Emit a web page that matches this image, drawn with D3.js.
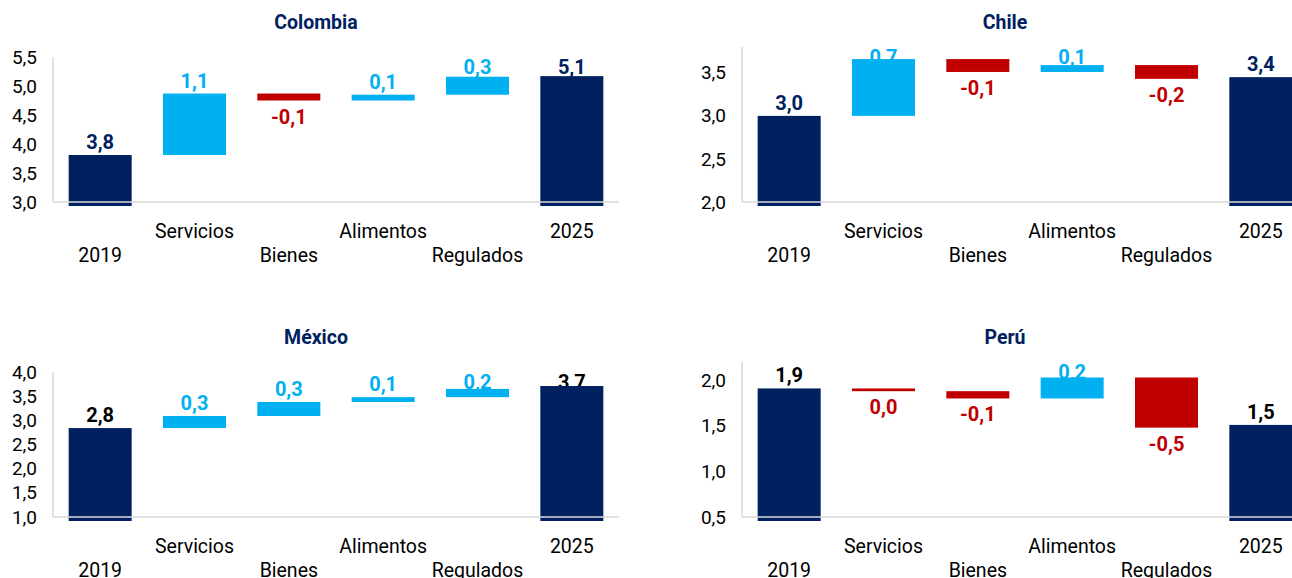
<!DOCTYPE html>
<html>
<head>
<meta charset="utf-8">
<script src="https://cdn.jsdelivr.net/npm/d3@7"></script>
<style>
  body { margin: 0; background: #fff; }
  svg { display: block; font-family: Roboto, "Noto Sans", sans-serif; }
</style>
</head>
<body>
<div id="chart"></div>
<script>
// categories and panels
const categories = ["2019", "Servicios", "Bienes", "Alimentos", "Regulados", "2025"];
const countries = ["Colombia", "Chile", "México", "Perú"];

// values (one entry per country)
const start2019 = [3.81, 3.00, 2.84, 1.91];
const servicios = [1.06, 0.66, 0.25, -0.03];
const bienes    = [-0.12, -0.15, 0.29, -0.08];
const alimentos = [0.10, 0.08, 0.10, 0.23];
const regulados = [0.31, -0.16, 0.17, -0.55];
const end2025   = [5.17, 3.45, 3.71, 1.51];

// data labels as printed on the chart
const labelsColombia = ["3,8", "1,1", "-0,1", "0,1", "0,3", "5,1"];
const labelsChile    = ["3,0", "0,7", "-0,1", "0,1", "-0,2", "3,4"];
const labelsMexico   = ["2,8", "0,3", "0,3", "0,1", "0,2", "3,7"];
const labelsPeru     = ["1,9", "0,0", "-0,1", "0,2", "-0,5", "1,5"];
const allLabels = [labelsColombia, labelsChile, labelsMexico, labelsPeru];

// y axis ranges and ticks
const yMin = [3.0, 2.0, 1.0, 0.5];
const yMax = [5.5, 3.8, 4.0, 2.2];
const ticksColombia = [3.0, 3.5, 4.0, 4.5, 5.0, 5.5];
const ticksChile    = [2.0, 2.5, 3.0, 3.5];
const ticksMexico   = [1.0, 1.5, 2.0, 2.5, 3.0, 3.5, 4.0];
const ticksPeru     = [0.5, 1.0, 1.5, 2.0];
const allTicks = [ticksColombia, ticksChile, ticksMexico, ticksPeru];

const w = 1292, h = 578;
const navy = "#002060", blue = "#00B0F0", red = "#C00000", grid = "#d9d9d9";

// layout of each panel
const offX  = [0, 689, 0, 689];
const baseY = [202, 202, 517, 517];
const plotH = [145, 155, 145, 155];
const totalLabelColor = [navy, navy, "#000", "#000"];

const fmt = v => d3.format(".1f")(v).replace(".", ",");

const svg = d3.select("#chart").append("svg")
  .attr("width", w).attr("height", h);

countries.forEach((name, k) => {
  const g = svg.append("g").attr("transform", "translate(" + offX[k] + ",0)");
  const y0 = baseY[k], yTop = y0 - plotH[k];

  const xScale = d3.scaleBand().domain(categories).range([53, 619])
    .paddingInner(0.332).paddingOuter(0.166);
  const yScale = d3.scaleLinear().domain([yMin[k], yMax[k]]).range([y0, yTop]);

  // build waterfall steps
  const deltas = [servicios[k], bienes[k], alimentos[k], regulados[k]];
  const bars = [];
  let level = start2019[k];
  bars.push({cat: categories[0], lo: yMin[k], hi: level, total: true, neg: false});
  deltas.forEach((d, i) => {
    const next = level + d;
    bars.push({cat: categories[i + 1], lo: Math.min(level, next), hi: Math.max(level, next), total: false, neg: d < 0});
    level = next;
  });
  bars.push({cat: categories[5], lo: yMin[k], hi: end2025[k], total: true, neg: false});
  bars.forEach((b, i) => b.label = allLabels[k][i]);

  // title
  g.append("text")
    .attr("x", 316).attr("y", y0 - 180)
    .attr("dy", "0.35em")
    .attr("text-anchor", "middle")
    .style("font-size", "19.5px").style("font-weight", "bold")
    .style("fill", navy)
    .text(name);

  // y axis
  const yAxis = d3.axisLeft(yScale).tickValues(allTicks[k]).tickSize(0).tickPadding(16).tickFormat(fmt);
  const ya = g.append("g").attr("transform", "translate(53,0)").call(yAxis);
  ya.select(".domain").remove();
  ya.selectAll("text").style("font-size", "19px").style("fill", "#000")
    .style("font-family", "Roboto, sans-serif");

  // vertical axis line
  g.append("line")
    .attr("x1", 53).attr("x2", 53).attr("y1", yTop).attr("y2", y0)
    .attr("stroke", grid).attr("stroke-width", 1.5);

  // value labels (drawn under the bars)
  g.selectAll(".lbl").data(bars).enter().append("text")
    .attr("class", "lbl")
    .attr("x", d => xScale(d.cat) + xScale.bandwidth() / 2)
    .attr("y", d => d.neg ? yScale(d.lo) + 16 : Math.max(yScale(d.hi) - 13, yTop + 10))
    .attr("dy", "0.35em")
    .attr("text-anchor", "middle")
    .style("font-size", "20px").style("font-weight", "bold")
    .style("fill", d => d.total ? totalLabelColor[k] : (d.neg ? red : blue))
    .text(d => d.label);

  // bars
  g.selectAll(".bar").data(bars).enter().append("rect")
    .attr("class", "bar")
    .attr("x", d => xScale(d.cat))
    .attr("width", xScale.bandwidth())
    .attr("y", d => yScale(d.hi))
    .attr("height", d => yScale(d.lo) - yScale(d.hi) + (d.total ? 4 : 0))
    .style("fill", d => d.total ? navy : (d.neg ? red : blue));

  // horizontal axis line
  g.append("line")
    .attr("x1", 53).attr("x2", 619).attr("y1", y0).attr("y2", y0)
    .attr("stroke", grid).attr("stroke-width", 1.5);

  // category labels, staggered on two lines
  g.selectAll(".cat").data(categories).enter().append("text")
    .attr("class", "cat")
    .attr("x", d => xScale(d) + xScale.bandwidth() / 2)
    .attr("y", (d, i) => y0 + (i % 2 === 0 ? 53 : 29))
    .attr("dy", "0.35em")
    .attr("text-anchor", "middle")
    .style("font-size", "19.5px").style("font-weight", "normal").style("fill", "#000")
    .text(d => d);
});
</script>
</body>
</html>
